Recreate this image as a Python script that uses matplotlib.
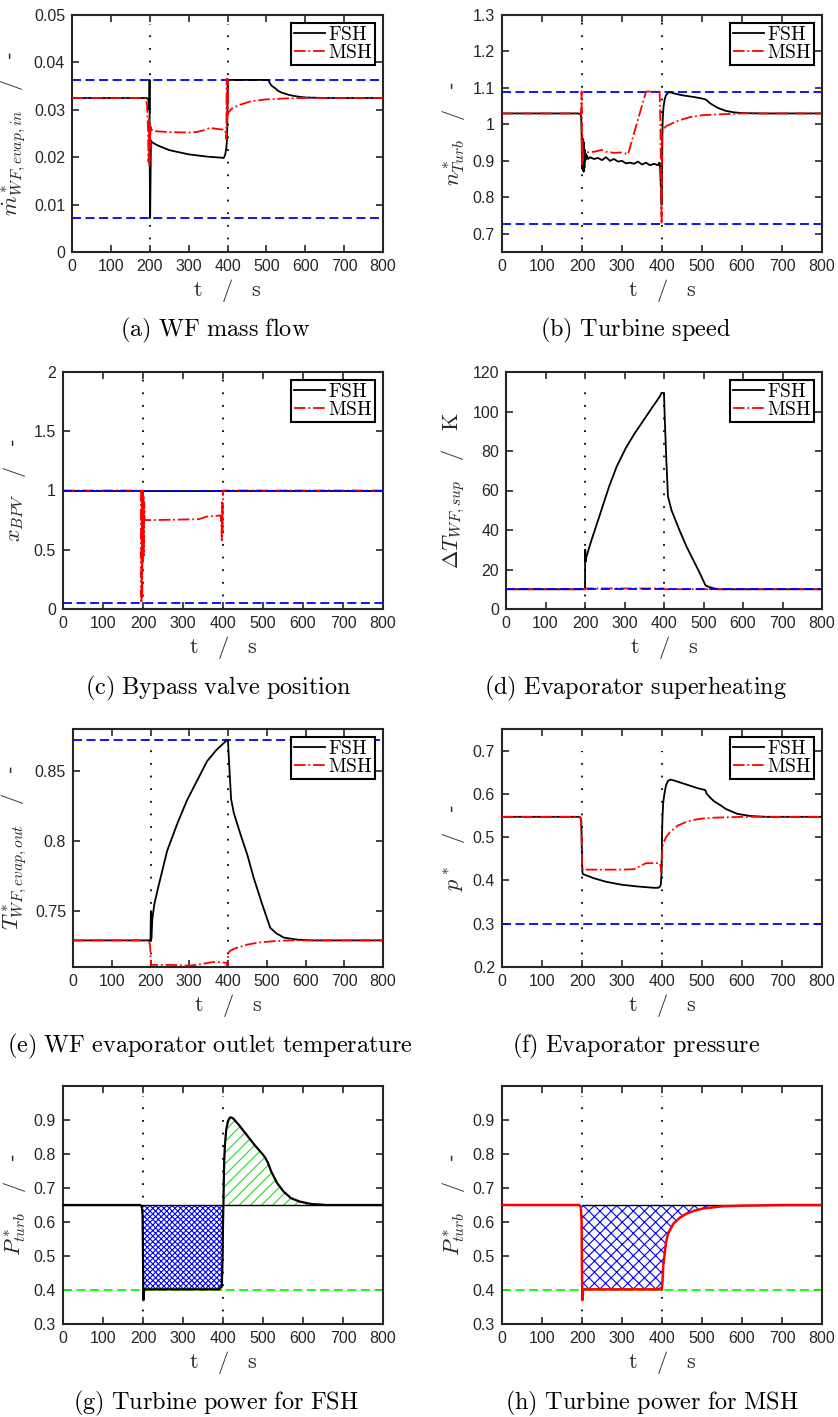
import matplotlib
matplotlib.use("Agg")
import matplotlib.pyplot as plt
from matplotlib.ticker import FormatStrFormatter
from matplotlib.lines import Line2D

plt.rcParams['font.family'] = ['Liberation Sans', 'DejaVu Sans']
plt.rcParams['mathtext.fontset'] = 'cm'
plt.rcParams['hatch.linewidth'] = 0.8

# ---- data ----
t_sw = [200, 400]

# (a) WF mass flow
a_fsh_t = [0, 190, 196, 199, 199.5, 200, 200.5, 201, 202, 203, 205, 220, 250, 300, 350, 385, 390, 394, 397, 399,
           400, 401, 402, 505, 508, 512, 515, 520, 525, 530, 540, 560, 580, 600, 650, 800]
a_fsh_v = [0.0325, 0.0325, 0.0323, 0.030, 0.0363, 0.020, 0.0072, 0.0072, 0.015, 0.0235, 0.0232, 0.0225, 0.0215,
           0.0206, 0.0201, 0.0199, 0.0198, 0.0205, 0.022, 0.024, 0.030, 0.0363, 0.0363, 0.0363, 0.0358, 0.0352,
           0.035, 0.0347, 0.0344, 0.034, 0.0336, 0.0331, 0.0328, 0.0326, 0.0325, 0.0325]
a_msh_t = [0, 185, 190, 193, 195, 196, 197, 198, 199, 200, 201, 202, 203, 205, 210, 250, 300, 320, 340, 355, 370,
           390, 394, 396, 397, 398, 399, 400, 401, 403, 410, 430, 460, 500, 550, 600, 800]
a_msh_v = [0.0325, 0.0325, 0.0323, 0.031, 0.027, 0.0255, 0.019, 0.028, 0.018, 0.027, 0.022, 0.0265, 0.0255,
           0.0258, 0.0255, 0.0253, 0.0252, 0.0253, 0.0257, 0.0262, 0.026, 0.0258, 0.0258, 0.0245, 0.0238, 0.0365,
           0.0265, 0.0365, 0.029, 0.0295, 0.0302, 0.031, 0.0318, 0.0322, 0.0324, 0.0325, 0.0325]
a_lim = [0.0363, 0.0072]

# (b) turbine speed
b_fsh_t = [0, 190, 196, 198, 199, 200, 201, 202, 203, 204, 205, 206, 207, 208, 209, 210, 212, 215, 220, 230, 240,
           250, 260, 270, 280, 290, 300, 310, 320, 330, 340, 350, 360, 370, 380, 390, 393, 395, 397, 399, 400, 401,
           402, 404, 407, 410, 415, 420, 430, 450, 480, 500, 510, 520, 540, 560, 580, 600, 650, 800]
b_fsh_v = [1.03, 1.03, 1.028, 1.02, 0.97, 0.88, 0.94, 0.875, 0.96, 0.87, 0.95, 0.88, 0.93, 0.9, 0.92, 0.905,
           0.915, 0.905, 0.91, 0.905, 0.908, 0.902, 0.91, 0.9, 0.905, 0.898, 0.9, 0.893, 0.895, 0.892, 0.898, 0.89,
           0.895, 0.888, 0.892, 0.888, 0.895, 0.89, 0.83, 0.78, 0.85, 0.98, 1.02, 1.05, 1.07, 1.08, 1.087, 1.088,
           1.085, 1.08, 1.075, 1.071, 1.068, 1.058, 1.045, 1.037, 1.033, 1.031, 1.03, 1.03]
b_msh_t = [0, 195, 198, 199, 200, 201, 202, 203, 205, 210, 230, 250, 260, 280, 300, 315, 360, 394, 396, 398, 399,
           400, 401, 403, 410, 420, 440, 470, 500, 550, 600, 800]
b_msh_v = [1.03, 1.03, 1.025, 1.09, 0.89, 0.97, 0.9, 0.92, 0.925, 0.923, 0.925, 0.93, 0.925, 0.922, 0.923, 0.918,
           1.09, 1.09, 1.0, 0.8, 0.727, 0.95, 0.98, 0.985, 0.995, 1.0, 1.01, 1.02, 1.025, 1.028, 1.03, 1.03]
b_lim = [1.09, 0.727]

# (c) bypass valve position
c_fsh_t = [0, 800]
c_fsh_v = [1, 1]
c_msh_t = [0, 193, 195, 196, 197, 198, 199, 200, 201, 202, 203, 204, 206, 250, 300, 340, 350, 360, 380, 394, 396,
           397, 398, 399, 400, 800]
c_msh_v = [1, 1, 0.98, 0.05, 0.95, 0.1, 1.0, 0.4, 0.95, 0.45, 0.9, 0.75, 0.75, 0.752, 0.755, 0.758, 0.77, 0.78,
           0.785, 0.79, 0.7, 0.58, 0.9, 0.65, 1.0, 1.0]
c_lim = [1.0, 0.05]

# (d) evaporator superheating
d_fsh_t = [0, 199.5, 200, 200.5, 201.5, 203, 215, 236, 261, 280, 303, 325, 346, 370, 389, 394, 398, 400, 402, 406,
           410, 419, 440, 457, 491, 505, 512, 525, 540, 800]
d_fsh_v = [10, 10, 10.5, 30, 24, 26, 34, 46.7, 62, 72, 81.4, 88.7, 94.9, 102, 107.5, 109.5, 109.3, 109, 96, 75,
           57, 50, 39.5, 31.6, 18, 12, 11.3, 10.5, 10, 10]
d_msh_t = [0, 200, 201, 400, 402, 800]
d_msh_v = [10, 10, 10.4, 10.4, 10, 10]
d_lim = [10]

# (e) WF evaporator outlet temperature
e_fsh_t = [0, 199, 200, 201, 202, 205, 210, 220, 243, 270, 294, 320, 346, 370, 397, 400, 402, 408, 415, 432, 450,
           466, 488, 509, 525, 544, 580, 620, 800]
e_fsh_v = [0.729, 0.729, 0.729, 0.75, 0.73, 0.745, 0.755, 0.767, 0.793, 0.813, 0.829, 0.843, 0.857, 0.865, 0.872,
           0.872, 0.86, 0.83, 0.82, 0.805, 0.79, 0.774, 0.755, 0.738, 0.734, 0.731, 0.7295, 0.729, 0.729]
e_msh_t = [0, 196, 199, 201, 203, 250, 300, 320, 340, 360, 380, 396, 398, 399, 400, 401, 405, 420, 450, 480, 520,
           560, 600, 800]
e_msh_v = [0.729, 0.729, 0.725, 0.712, 0.7115, 0.7115, 0.711, 0.7115, 0.7125, 0.7135, 0.7135, 0.713, 0.711, 0.712,
           0.718, 0.72, 0.7215, 0.7235, 0.726, 0.7275, 0.7285, 0.729, 0.729, 0.729]
e_lim = [0.872]

# (f) evaporator pressure
f_fsh_t = [0, 192, 196, 198, 199, 200, 201, 202, 210, 230, 260, 300, 340, 380, 390, 394, 397, 399, 400, 401, 403,
           406, 410, 415, 421, 430, 450, 470, 490, 508, 512, 520, 530, 546, 560, 588, 620, 660, 800]
f_fsh_v = [0.547, 0.547, 0.545, 0.54, 0.5, 0.45, 0.42, 0.415, 0.412, 0.405, 0.397, 0.39, 0.386, 0.383, 0.383,
           0.385, 0.39, 0.42, 0.5, 0.54, 0.58, 0.6, 0.62, 0.63, 0.633, 0.631, 0.625, 0.619, 0.613, 0.609, 0.6,
           0.592, 0.583, 0.574, 0.565, 0.554, 0.549, 0.547, 0.547]
f_msh_t = [0, 195, 198, 199, 200, 201, 202, 250, 300, 330, 345, 360, 380, 395, 397, 398, 399, 400, 401, 403, 410,
           420, 440, 460, 480, 500, 530, 560, 600, 800]
f_msh_v = [0.547, 0.547, 0.54, 0.5, 0.44, 0.43, 0.425, 0.425, 0.425, 0.426, 0.433, 0.44, 0.44, 0.44, 0.43, 0.42,
           0.44, 0.46, 0.475, 0.485, 0.5, 0.512, 0.527, 0.535, 0.54, 0.543, 0.545, 0.546, 0.547, 0.547]
f_lim = [0.3]

# (g) turbine power FSH
g_t = [0, 193, 197, 199, 200, 201, 202, 203, 210, 300, 390, 397, 399, 400, 401, 402, 403, 405, 408, 412, 416, 419,
       425, 440, 460, 480, 500, 505, 512, 520, 535, 551, 570, 592, 620, 660, 800]
g_v = [0.65, 0.65, 0.645, 0.62, 0.5, 0.37, 0.39, 0.402, 0.402, 0.402, 0.402, 0.41, 0.5, 0.6, 0.65, 0.72, 0.78,
       0.83, 0.87, 0.895, 0.905, 0.908, 0.905, 0.885, 0.855, 0.825, 0.798, 0.79, 0.775, 0.75, 0.715, 0.69, 0.67,
       0.66, 0.653, 0.65, 0.65]

# (h) turbine power MSH
h_t = [0, 193, 197, 199, 200, 201, 202, 203, 210, 300, 390, 397, 399, 400, 401, 403, 406, 410, 415, 429, 445, 462,
       480, 504, 550, 600, 700, 800]
h_v = [0.65, 0.65, 0.645, 0.6, 0.45, 0.37, 0.39, 0.402, 0.402, 0.402, 0.402, 0.405, 0.4, 0.41, 0.42, 0.47, 0.5,
       0.54, 0.565, 0.596, 0.613, 0.625, 0.633, 0.64, 0.646, 0.648, 0.65, 0.65]
p_ref = 0.65
p_min = 0.4

# ---- layout ----
W, H = 838, 1417
fig = plt.figure(figsize=(W / 100, H / 100), dpi=100)


def rect(l, r, top, bot):
    return [l / W, 1 - bot / H, (r - l) / W, (bot - top) / H]


dark = '#262626'
blue_dash = (0, (5, 2.5))
lw = 1.3


def style(ax, ylim, yticks, ylabel, dot_hi=None):
    ax.set_xlim(0, 800)
    ax.set_ylim(*ylim)
    ax.set_xticks(range(0, 801, 100))
    ax.set_yticks(yticks)
    ax.yaxis.set_major_formatter(FormatStrFormatter('%g'))
    ax.tick_params(direction='in', top=True, right=True, length=5, width=1.2,
                   colors=dark, labelsize=11.5, labelcolor=dark, pad=5)
    for s in ax.spines.values():
        s.set_linewidth(1.5)
        s.set_color(dark)
    ax.set_xlabel(r'$\mathrm{t}\quad/\quad\mathrm{s}$', fontsize=16, color=dark, labelpad=2)
    ax.set_ylabel(ylabel, fontsize=16, color=dark, labelpad=4)
    hi = ylim[1] if dot_hi is None else dot_hi
    ax.vlines(t_sw, ylim[0], hi, colors='black', linestyles=(0, (1, 6)), linewidth=1.3, zorder=1)


def legend(ax):
    h = [Line2D([], [], color='black', lw=lw), Line2D([], [], color='red', lw=lw, ls='-.')]
    lg = ax.legend(h, [r'$\mathrm{FSH}$', r'$\mathrm{MSH}$'], loc='upper right', fontsize=14,
                   fancybox=False, framealpha=1, edgecolor='black', borderpad=0.15,
                   handlelength=1.6, handletextpad=0.15, labelspacing=0.0, borderaxespad=0.4)
    lg.get_frame().set_linewidth(1.5)


def pair(ax, ft, fv, mt, mv, lims):
    for y in lims:
        ax.axhline(y, color='blue', ls=blue_dash, lw=lw, zorder=2)
    ax.plot(ft, fv, color='black', lw=lw, zorder=3)
    ax.plot(mt, mv, color='red', ls='-.', lw=lw, zorder=4)
    legend(ax)


dash_lbl = r'$\quad/\quad$-'

ax = fig.add_axes(rect(72, 383, 15, 252))
pair(ax, a_fsh_t, a_fsh_v, a_msh_t, a_msh_v, a_lim)
style(ax, (0, 0.05), [0, 0.01, 0.02, 0.03, 0.04, 0.05], r'$\dot{m}^*_{WF,evap,in}$' + dash_lbl, dot_hi=0.048)

ax = fig.add_axes(rect(502, 822, 15, 252))
pair(ax, b_fsh_t, b_fsh_v, b_msh_t, b_msh_v, b_lim)
style(ax, (0.65, 1.3), [0.7, 0.8, 0.9, 1.0, 1.1, 1.2, 1.3], r'$n^*_{Turb}$' + dash_lbl, dot_hi=1.28)

ax = fig.add_axes(rect(63, 383, 372, 609))
ax.plot(c_fsh_t, c_fsh_v, color='black', lw=lw, zorder=3)
ax.plot(c_msh_t, c_msh_v, color='red', ls='-.', lw=lw, zorder=4)
for y in c_lim:
    ax.axhline(y, color='blue', ls=blue_dash, lw=lw, zorder=5)
legend(ax)
style(ax, (0, 2), [0, 0.5, 1, 1.5, 2], r'$x_{BPV}$' + dash_lbl, dot_hi=1.95)

ax = fig.add_axes(rect(506, 822, 372, 609))
ax.plot(d_fsh_t, d_fsh_v, color='black', lw=lw, zorder=3)
ax.plot(d_msh_t, d_msh_v, color='red', ls='-.', lw=lw, zorder=4)
for y in d_lim:
    ax.axhline(y, color='blue', ls=blue_dash, lw=lw, zorder=5)
legend(ax)
style(ax, (0, 120), range(0, 121, 20), r'$\Delta T_{WF,sup}\quad/\quad\mathrm{K}$', dot_hi=115)

ax = fig.add_axes(rect(73, 383, 729, 967))
pair(ax, e_fsh_t, e_fsh_v, e_msh_t, e_msh_v, e_lim)
style(ax, (0.71, 0.88), [0.75, 0.8, 0.85], r'$T^*_{WF,evap,out}$' + dash_lbl, dot_hi=0.865)

ax = fig.add_axes(rect(502, 822, 729, 967))
pair(ax, f_fsh_t, f_fsh_v, f_msh_t, f_msh_v, f_lim)
style(ax, (0.2, 0.75), [0.2, 0.3, 0.4, 0.5, 0.6, 0.7], r'$p^*$' + dash_lbl, dot_hi=0.7)

# (g)
ax = fig.add_axes(rect(63, 383, 1086, 1324))
ax.fill_between(g_t, g_v, p_ref, where=[200 <= x <= 400 for x in g_t], facecolor='white',
                edgecolor='blue', hatch='xxxxxx', linewidth=0, zorder=2)
ax.fill_between(g_t, g_v, p_ref, where=[x >= 400 for x in g_t], facecolor='white',
                edgecolor='#22dd22', hatch='///', linewidth=0, zorder=2)
ax.axhline(p_min, color='#00ff00', ls=blue_dash, lw=lw, zorder=2)
ax.hlines(p_min, 200, 400, color='#d4b000', linestyles=':', lw=1.5, zorder=3)
ax.axhline(p_ref, color='black', lw=1.0, zorder=3)
ax.plot(g_t, g_v, color='black', lw=1.6, zorder=4)
style(ax, (0.3, 1.0), [0.3, 0.4, 0.5, 0.6, 0.7, 0.8, 0.9], r'$P^*_{turb}$' + dash_lbl, dot_hi=0.97)

# (h)
ax = fig.add_axes(rect(502, 822, 1086, 1324))
ax.fill_between(h_t, h_v, p_ref, where=[x >= 200 for x in h_t], facecolor='white',
                edgecolor='blue', hatch='xxx', linewidth=0, zorder=2)
ax.axhline(p_min, color='#00ff00', ls=blue_dash, lw=lw, zorder=2)
ax.hlines(p_min, 200, 400, color='#ff8800', linestyles=':', lw=1.5, zorder=3)
ax.hlines(p_ref, 200, 800, color='black', lw=1.0, zorder=3)
ax.plot(h_t, h_v, color='red', lw=1.8, zorder=4)
style(ax, (0.3, 1.0), [0.3, 0.4, 0.5, 0.6, 0.7, 0.8, 0.9], r'$P^*_{turb}$' + dash_lbl, dot_hi=0.97)

# captions
captions = [
    (215, 330, r'(a)\ WF\ mass\ flow'), (636, 330, r'(b)\ Turbine\ speed'),
    (218, 688, r'(c)\ Bypass\ valve\ position'), (636, 688, r'(d)\ Evaporator\ superheating'),
    (210, 1046, r'(e)\ WF\ evaporator\ outlet\ temperature'), (636, 1046, r'(f)\ Evaporator\ pressure'),
    (216, 1403, r'(g)\ Turbine\ power\ for\ FSH'), (652, 1403, r'(h)\ Turbine\ power\ for\ MSH'),
]
for x, y, s in captions:
    fig.text(x / W, 1 - y / H, r'$\mathrm{' + s + '}$', ha='center', va='center', fontsize=17.5)

fig.savefig('out.png', dpi=100)
